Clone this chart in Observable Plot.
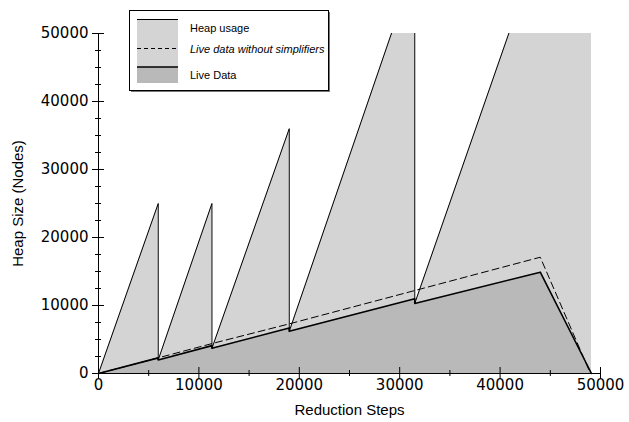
<!DOCTYPE html>
<html><head><meta charset="utf-8">
<script src="https://cdn.jsdelivr.net/npm/d3@7"></script>
<script src="https://cdn.jsdelivr.net/npm/@observablehq/plot@0.6"></script>
<style>body{margin:0;background:#fff} svg{display:block}</style>
</head><body><div id="chart"></div>
<script>
// Heap usage (sawtooth) — reduction steps vs nodes
const heapSteps = [0, 5950, 5950, 11300, 11300, 19000, 19000, 31500, 31500, 49100];
const heapNodes = [0, 25000, 2000, 25000, 3700, 36000, 6200, 60000, 10300, 84900];
// Live data
const liveSteps = [0, 5950, 5950, 11300, 11300, 19000, 19000, 31500, 31500, 44000, 49100];
const liveNodes = [0, 2300, 2000, 4100, 3700, 6700, 6200, 11000, 10300, 14900, 0];
// Live data without simplifiers
const noSimpSteps = [0, 5950, 11300, 19000, 31500, 44000, 49000];
const noSimpNodes = [0, 2300, 4400, 7300, 12200, 17100, 0];

const xMajor = [0, 10000, 20000, 30000, 40000, 50000];
const xMinor = [5000, 15000, 25000, 35000, 45000];
const yMajor = [0, 10000, 20000, 30000, 40000, 50000];
const yMinor = [2500, 5000, 7500, 12500, 15000, 17500, 22500, 25000, 27500, 32500, 35000, 37500, 42500, 45000, 47500];
const xTitle = "Reduction Steps";
const yTitle = "Heap Size (Nodes)";
const legendLabels = ["Heap usage", "Live data without simplifiers", "Live Data"];

const heap = heapSteps.map((x, i) => ({x, y: heapNodes[i]}));
const live = liveSteps.map((x, i) => ({x, y: liveNodes[i]}));
const noSimp = noSimpSteps.map((x, i) => ({x, y: noSimpNodes[i]}));

const LIGHT = "#d4d4d4", DARK = "#b9b9b9";
const tickFont = "DejaVu Sans", titleFont = "Liberation Sans";
const fmt = d3.format("d");

const chart = Plot.plot({
  width: 629, height: 422,
  marginLeft: 98, marginRight: 29, marginTop: 33, marginBottom: 49,
  style: {fontFamily: tickFont, color: "#000", background: "#fff"},
  x: {domain: [0, 50000], axis: null, label: null},
  y: {domain: [0, 50000], axis: null, label: null},
  marks: [
    Plot.area(heap, {x1: "x", y1: 0, y2: "y", fill: LIGHT, clip: true}),
    Plot.area(live, {x1: "x", y1: 0, y2: "y", fill: DARK}),
    Plot.line(heap, {x: "x", y: "y", stroke: "#000", strokeWidth: 1, clip: true}),
    Plot.line(noSimp, {x: "x", y: "y", stroke: "#000", strokeWidth: 1, strokeDasharray: "7,4"}),
    Plot.line(live, {x: "x", y: "y", stroke: "#000", strokeWidth: 1.6}),
    Plot.ruleY([0], {stroke: "#000"}),
    Plot.ruleX([0], {stroke: "#000"}),
    Plot.axisX(xMajor, {tickSize: 12, dy: -6, tickFormat: () => "", label: null}),
    Plot.axisX(xMinor, {tickSize: 6, dy: -3, tickFormat: () => "", label: null}),
    Plot.axisX(xMajor, {tickSize: 0, tickPadding: 6, fontSize: 15, fontFamily: tickFont, tickFormat: fmt, label: null}),
    Plot.axisY(yMajor, {tickSize: 12, dx: 6, tickFormat: () => "", label: null}),
    Plot.axisY(yMinor, {tickSize: 6, dx: 3, tickFormat: () => "", label: null}),
    Plot.axisY(yMajor, {tickSize: 0, tickPadding: 10, fontSize: 15, fontFamily: tickFont, tickFormat: fmt, label: null}),
    Plot.text([xTitle], {text: d => d, frameAnchor: "bottom", dy: 37, textAnchor: "middle", lineAnchor: "middle", fontSize: 15, fontFamily: titleFont}),
    Plot.text([yTitle], {text: d => d, frameAnchor: "left", dx: -80, rotate: -90, textAnchor: "middle", lineAnchor: "middle", fontSize: 15, fontFamily: titleFont})
  ]
});
document.getElementById("chart").append(chart);

// Legend box
const svg = d3.select(chart);
const g = svg.append("g").attr("class", "legend").attr("text-anchor", "start");
g.append("rect").attr("x", 131).attr("y", 12).attr("width", 199).attr("height", 80).attr("fill", "#777");
g.append("rect").attr("x", 129.5).attr("y", 10.5).attr("width", 199).attr("height", 80)
  .attr("fill", "#fff").attr("stroke", "#000").attr("stroke-width", 1);
g.append("rect").attr("x", 137).attr("y", 19).attr("width", 41).attr("height", 48).attr("fill", LIGHT);
g.append("rect").attr("x", 137).attr("y", 67).attr("width", 41).attr("height", 16).attr("fill", DARK);
g.append("line").attr("x1", 137).attr("x2", 178).attr("y1", 19.5).attr("y2", 19.5).attr("stroke", "#000").attr("stroke-width", 1);
g.append("line").attr("x1", 137).attr("x2", 178).attr("y1", 48.5).attr("y2", 48.5).attr("stroke", "#000").attr("stroke-width", 1).attr("stroke-dasharray", "4,3");
g.append("line").attr("x1", 137).attr("x2", 178).attr("y1", 67).attr("y2", 67).attr("stroke", "#000").attr("stroke-width", 1.6);
const ys = [27.5, 49, 74.5];
legendLabels.forEach((t, i) => {
  g.append("text").attr("x", 190).attr("y", ys[i]).attr("dominant-baseline", "central")
    .attr("text-anchor", "start")
    .attr("font-family", titleFont).attr("font-size", 11)
    .attr("font-style", i === 1 ? "italic" : "normal").attr("fill", "#000").text(t);
});
</script>
</body></html>
